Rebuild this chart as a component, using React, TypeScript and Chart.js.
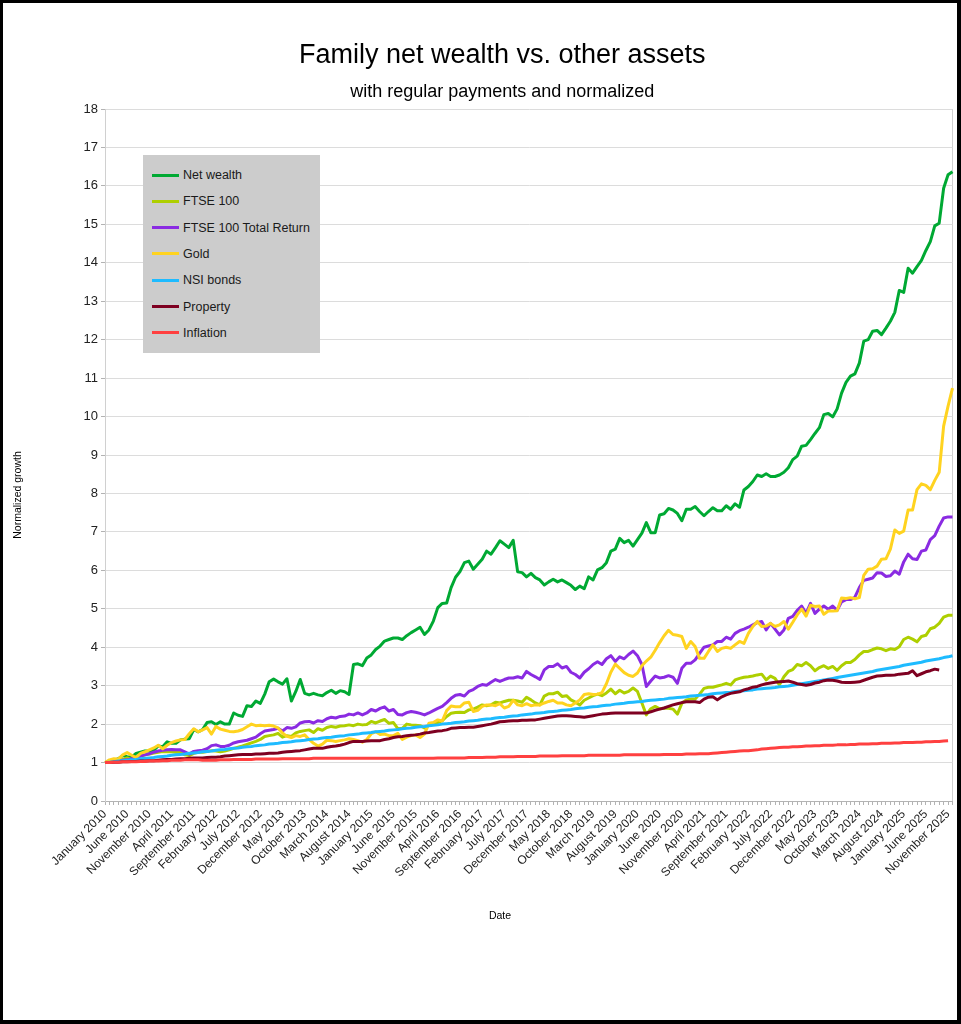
import React, { useEffect, useRef } from "react";
import { Chart, registerables } from "chart.js";

Chart.register(...registerables);

const FONT = "'Liberation Sans', Arial, sans-serif";

const MONTH_NAMES = [
  "January", "February", "March", "April", "May", "June",
  "July", "August", "September", "October", "November", "December",
];
const START_YEAR = 2010;
const MONTH_COUNT = 192;
const LABEL_EVERY = 5;
const CATEGORIES: string[] = [];
for (let i = 0; i < MONTH_COUNT; i++) {
  CATEGORIES.push(`${MONTH_NAMES[i % 12]} ${START_YEAR + Math.floor(i / 12)}`);
}

const Y_MIN = 0;
const Y_MAX = 18;
const Y_STEP = 1;

const SERIES_NAMES = [
  "Net wealth",
  "FTSE 100",
  "FTSE 100 Total Return",
  "Gold",
  "NSI bonds",
  "Property",
  "Inflation",
];

const NET_WEALTH = [
  1.00, 1.00, 1.05, 1.10, 1.18, 1.15, 1.14, 1.24, 1.27, 1.30,
  1.30, 1.32, 1.43, 1.41, 1.54, 1.50, 1.50, 1.59, 1.61, 1.62,
  1.86, 1.80, 1.86, 2.04, 2.06, 1.99, 2.06, 2.00, 2.00, 2.29,
  2.23, 2.20, 2.48, 2.46, 2.60, 2.54, 2.78, 3.10, 3.17, 3.10,
  3.04, 3.18, 2.60, 2.85, 3.16, 2.80, 2.76, 2.80, 2.76, 2.74,
  2.82, 2.88, 2.80, 2.87, 2.84, 2.77, 3.55, 3.57, 3.52, 3.72,
  3.80, 3.94, 4.03, 4.16, 4.20, 4.24, 4.24, 4.20, 4.30, 4.38,
  4.45, 4.52, 4.33, 4.45, 4.68, 5.03, 5.14, 5.15, 5.55, 5.82,
  5.97, 6.20, 6.24, 6.03, 6.16, 6.29, 6.50, 6.42, 6.59, 6.77,
  6.68, 6.59, 6.78, 5.96, 5.94, 5.83, 5.92, 5.81, 5.75, 5.62,
  5.70, 5.77, 5.70, 5.75, 5.68, 5.61, 5.50, 5.59, 5.52, 5.83,
  5.75, 6.01, 6.07, 6.20, 6.50, 6.55, 6.83, 6.72, 6.78, 6.63,
  6.80, 6.97, 7.24, 6.98, 6.98, 7.44, 7.47, 7.61, 7.57, 7.48,
  7.29, 7.59, 7.59, 7.66, 7.53, 7.42, 7.53, 7.63, 7.55, 7.55,
  7.68, 7.59, 7.73, 7.64, 8.09, 8.18, 8.31, 8.48, 8.44, 8.51,
  8.44, 8.44, 8.48, 8.55, 8.67, 8.88, 8.97, 9.23, 9.25, 9.40,
  9.56, 9.71, 10.05, 10.08, 9.99, 10.20, 10.61, 10.89, 11.05, 11.11,
  11.39, 11.96, 12.00, 12.22, 12.24, 12.13, 12.30, 12.48, 12.71, 13.28,
  13.23, 13.86, 13.73, 13.90, 14.06, 14.32, 14.55, 14.96, 15.03, 15.94,
  16.29, 16.37,
];

const FTSE_100 = [
  1.00, 1.02, 1.05, 1.04, 1.08, 1.12, 1.08, 1.13, 1.16, 1.20,
  1.22, 1.25, 1.27, 1.29, 1.28, 1.28, 1.27, 1.26, 1.20, 1.18,
  1.24, 1.27, 1.27, 1.29, 1.31, 1.30, 1.28, 1.30, 1.33, 1.37,
  1.40, 1.43, 1.47, 1.51, 1.55, 1.60, 1.68, 1.70, 1.72, 1.76,
  1.66, 1.70, 1.68, 1.77, 1.81, 1.83, 1.85, 1.78, 1.88, 1.84,
  1.91, 1.94, 1.92, 1.95, 1.96, 1.98, 1.96, 2.00, 1.98, 1.99,
  2.07, 2.03, 2.08, 2.12, 2.02, 2.04, 1.88, 1.89, 2.00, 1.98,
  1.97, 1.96, 1.90, 1.97, 2.01, 2.04, 2.09, 2.20, 2.28, 2.30,
  2.31, 2.30, 2.37, 2.39, 2.44, 2.50, 2.48, 2.50, 2.57, 2.55,
  2.59, 2.62, 2.62, 2.60, 2.57, 2.70, 2.63, 2.55, 2.50, 2.73,
  2.79, 2.79, 2.83, 2.72, 2.74, 2.63, 2.57, 2.50, 2.62, 2.68,
  2.74, 2.78, 2.74, 2.81, 2.91, 2.79, 2.88, 2.81, 2.85, 2.94,
  2.85, 2.55, 2.24, 2.40, 2.46, 2.40, 2.41, 2.41, 2.39, 2.26,
  2.54, 2.63, 2.65, 2.65, 2.78, 2.93, 2.96, 2.96, 2.99, 3.02,
  3.06, 3.02, 3.15, 3.19, 3.22, 3.23, 3.25, 3.28, 3.30, 3.15,
  3.25, 3.19, 3.02, 3.23, 3.37, 3.42, 3.55, 3.52, 3.60, 3.52,
  3.39, 3.47, 3.52, 3.45, 3.50, 3.40, 3.52, 3.60, 3.60, 3.68,
  3.80, 3.89, 3.89, 3.94, 3.98, 3.96, 3.91, 3.96, 3.94, 4.01,
  4.20, 4.26, 4.21, 4.14, 4.28, 4.31, 4.48, 4.52, 4.62, 4.78,
  4.83, 4.83,
];

const FTSE_100_TR = [
  1.00, 1.00, 1.02, 1.05, 1.06, 1.07, 1.10, 1.14, 1.17, 1.20,
  1.23, 1.27, 1.30, 1.32, 1.33, 1.34, 1.33, 1.33, 1.28, 1.22,
  1.29, 1.31, 1.32, 1.36, 1.44, 1.46, 1.42, 1.42, 1.45, 1.51,
  1.54, 1.56, 1.58, 1.62, 1.66, 1.75, 1.82, 1.84, 1.86, 1.89,
  1.82, 1.91, 1.89, 1.93, 2.03, 2.06, 2.07, 2.03, 2.09, 2.07,
  2.14, 2.18, 2.16, 2.20, 2.21, 2.26, 2.24, 2.29, 2.24, 2.29,
  2.38, 2.34, 2.41, 2.45, 2.34, 2.38, 2.25, 2.24, 2.30, 2.33,
  2.31, 2.28, 2.24, 2.29, 2.35, 2.41, 2.46, 2.56, 2.67, 2.75,
  2.77, 2.73, 2.85, 2.90, 2.98, 3.03, 3.01, 3.09, 3.16, 3.11,
  3.16, 3.20, 3.20, 3.23, 3.20, 3.37, 3.29, 3.23, 3.16, 3.41,
  3.50, 3.50, 3.57, 3.46, 3.50, 3.35, 3.29, 3.20, 3.35, 3.44,
  3.55, 3.62, 3.55, 3.70, 3.78, 3.63, 3.75, 3.70, 3.81, 3.90,
  3.78, 3.55, 2.98, 3.12, 3.25, 3.20, 3.22, 3.26, 3.22, 3.06,
  3.45, 3.58, 3.58, 3.67, 3.84, 4.00, 4.03, 4.06, 4.15, 4.15,
  4.26, 4.21, 4.36, 4.43, 4.47, 4.52, 4.58, 4.64, 4.67, 4.45,
  4.62, 4.47, 4.32, 4.45, 4.75, 4.80, 4.96, 5.07, 4.88, 5.14,
  4.88, 4.99, 5.07, 4.99, 5.07, 4.96, 5.18, 5.24, 5.24, 5.30,
  5.55, 5.74, 5.77, 5.80, 5.94, 5.93, 5.84, 5.86, 5.98, 5.90,
  6.22, 6.42, 6.30, 6.28, 6.50, 6.53, 6.80, 6.90, 7.15, 7.36,
  7.39, 7.39,
];

const GOLD = [
  1.00, 1.07, 1.10, 1.09, 1.20, 1.26, 1.19, 1.13, 1.24, 1.28,
  1.33, 1.38, 1.45, 1.36, 1.45, 1.52, 1.56, 1.59, 1.60, 1.75,
  1.88, 1.80, 1.85, 1.91, 1.74, 1.94, 1.87, 1.84, 1.81, 1.80,
  1.82, 1.86, 1.93, 2.00, 1.96, 1.97, 1.96, 1.97, 1.95, 1.90,
  1.77, 1.68, 1.65, 1.70, 1.68, 1.72, 1.60, 1.50, 1.43, 1.48,
  1.58, 1.57, 1.55, 1.57, 1.59, 1.62, 1.60, 1.57, 1.53, 1.60,
  1.75, 1.80, 1.73, 1.74, 1.70, 1.70, 1.76, 1.60, 1.66, 1.70,
  1.72, 1.65, 1.74, 2.02, 2.04, 2.11, 2.08, 2.35, 2.47, 2.45,
  2.45, 2.55, 2.57, 2.33, 2.36, 2.46, 2.50, 2.50, 2.48, 2.53,
  2.42, 2.46, 2.62, 2.50, 2.48, 2.53, 2.48, 2.50, 2.50, 2.55,
  2.59, 2.62, 2.55, 2.55, 2.50, 2.48, 2.55, 2.63, 2.77, 2.79,
  2.77, 2.78, 2.82, 3.05, 3.35, 3.56, 3.45, 3.34, 3.27, 3.24,
  3.33, 3.52, 3.64, 3.74, 3.92, 4.12, 4.30, 4.44, 4.33, 4.31,
  4.28, 3.97, 4.15, 4.02, 3.71, 3.71, 3.89, 4.06, 3.89, 3.97,
  4.00, 3.97, 4.06, 4.15, 4.10, 4.36, 4.54, 4.67, 4.54, 4.55,
  4.62, 4.54, 4.58, 4.67, 4.47, 4.65, 4.84, 4.99, 4.81, 5.09,
  5.06, 5.07, 4.86, 4.94, 4.94, 4.95, 5.28, 5.27, 5.29, 5.26,
  5.29, 5.87, 6.03, 6.04, 6.11, 6.29, 6.30, 6.55, 7.05, 6.96,
  7.02, 7.57, 7.57, 8.10, 8.25, 8.21, 8.10, 8.34, 8.55, 9.75,
  10.27, 10.74,
];

const NSI_BONDS = [
  1.00, 1.01, 1.02, 1.04, 1.05, 1.06, 1.07, 1.08, 1.10, 1.11,
  1.12, 1.13, 1.15, 1.16, 1.17, 1.19, 1.20, 1.21, 1.22, 1.24,
  1.25, 1.26, 1.28, 1.29, 1.30, 1.32, 1.33, 1.34, 1.36, 1.37,
  1.38, 1.40, 1.41, 1.42, 1.44, 1.45, 1.46, 1.48, 1.49, 1.50,
  1.52, 1.53, 1.54, 1.56, 1.57, 1.58, 1.60, 1.61, 1.62, 1.64,
  1.65, 1.66, 1.68, 1.69, 1.70, 1.72, 1.73, 1.74, 1.76, 1.77,
  1.78, 1.80, 1.81, 1.82, 1.84, 1.85, 1.86, 1.88, 1.89, 1.90,
  1.92, 1.93, 1.94, 1.96, 1.97, 1.98, 2.00, 2.01, 2.02, 2.04,
  2.05, 2.06, 2.08, 2.09, 2.10, 2.12, 2.13, 2.14, 2.16, 2.17,
  2.18, 2.20, 2.21, 2.22, 2.24, 2.25, 2.26, 2.28, 2.29, 2.30,
  2.32, 2.33, 2.34, 2.36, 2.37, 2.38, 2.40, 2.41, 2.42, 2.44,
  2.45, 2.46, 2.48, 2.49, 2.50, 2.52, 2.53, 2.54, 2.56, 2.57,
  2.58, 2.59, 2.61, 2.62, 2.63, 2.64, 2.65, 2.67, 2.68, 2.69,
  2.70, 2.71, 2.73, 2.74, 2.75, 2.76, 2.77, 2.79, 2.80, 2.81,
  2.82, 2.83, 2.85, 2.86, 2.87, 2.88, 2.89, 2.91, 2.92, 2.93,
  2.94, 2.95, 2.97, 2.98, 2.99, 3.01, 3.03, 3.05, 3.07, 3.09,
  3.11, 3.13, 3.15, 3.17, 3.19, 3.21, 3.23, 3.25, 3.27, 3.29,
  3.31, 3.33, 3.35, 3.37, 3.40, 3.42, 3.44, 3.46, 3.48, 3.50,
  3.53, 3.55, 3.57, 3.59, 3.61, 3.64, 3.66, 3.68, 3.70, 3.73,
  3.75, 3.78,
];

const PROPERTY = [
  1.00, 1.00, 1.01, 1.01, 1.02, 1.02, 1.03, 1.03, 1.04, 1.04,
  1.05, 1.05, 1.06, 1.07, 1.08, 1.08, 1.09, 1.10, 1.10, 1.11,
  1.12, 1.12, 1.12, 1.13, 1.14, 1.14, 1.15, 1.17, 1.18, 1.19,
  1.20, 1.21, 1.21, 1.21, 1.22, 1.22, 1.23, 1.24, 1.24, 1.25,
  1.27, 1.28, 1.29, 1.30, 1.31, 1.33, 1.35, 1.37, 1.37, 1.37,
  1.40, 1.42, 1.43, 1.45, 1.48, 1.52, 1.55, 1.55, 1.55, 1.56,
  1.57, 1.57, 1.57, 1.60, 1.62, 1.65, 1.67, 1.68, 1.70, 1.71,
  1.72, 1.74, 1.77, 1.78, 1.80, 1.82, 1.83, 1.85, 1.89, 1.90,
  1.91, 1.91, 1.92, 1.92, 1.94, 1.96, 1.98, 2.00, 2.03, 2.06,
  2.07, 2.08, 2.09, 2.09, 2.10, 2.10, 2.11, 2.11, 2.13, 2.15,
  2.17, 2.19, 2.21, 2.22, 2.22, 2.21, 2.20, 2.19, 2.18, 2.20,
  2.22, 2.24, 2.26, 2.27, 2.28, 2.29, 2.29, 2.29, 2.29, 2.29,
  2.29, 2.29, 2.29, 2.32, 2.36, 2.39, 2.42, 2.46, 2.50, 2.53,
  2.56, 2.58, 2.58, 2.58, 2.56, 2.65, 2.70, 2.71, 2.63, 2.71,
  2.76, 2.80, 2.82, 2.84, 2.89, 2.92, 2.96, 2.98, 3.02, 3.05,
  3.07, 3.09, 3.10, 3.11, 3.12, 3.09, 3.05, 3.03, 3.01, 3.03,
  3.07, 3.09, 3.13, 3.15, 3.14, 3.12, 3.09, 3.08, 3.08, 3.09,
  3.10, 3.14, 3.18, 3.22, 3.25, 3.26, 3.27, 3.27, 3.28, 3.30,
  3.31, 3.32, 3.39, 3.26, 3.31, 3.36, 3.39, 3.43, 3.41, null,
  null, null,
];

const INFLATION = [
  1.00, 1.00, 1.01, 1.01, 1.02, 1.02, 1.02, 1.02, 1.03, 1.03,
  1.04, 1.04, 1.04, 1.05, 1.05, 1.06, 1.06, 1.06, 1.07, 1.07,
  1.07, 1.07, 1.06, 1.06, 1.06, 1.06, 1.07, 1.07, 1.07, 1.08,
  1.08, 1.08, 1.08, 1.08, 1.09, 1.09, 1.09, 1.09, 1.09, 1.09,
  1.10, 1.10, 1.10, 1.10, 1.10, 1.10, 1.10, 1.11, 1.11, 1.11,
  1.11, 1.11, 1.11, 1.11, 1.11, 1.11, 1.11, 1.11, 1.11, 1.11,
  1.11, 1.11, 1.11, 1.11, 1.11, 1.11, 1.11, 1.11, 1.11, 1.11,
  1.11, 1.11, 1.11, 1.11, 1.11, 1.12, 1.12, 1.12, 1.12, 1.12,
  1.12, 1.12, 1.13, 1.13, 1.13, 1.13, 1.14, 1.14, 1.14, 1.15,
  1.15, 1.15, 1.15, 1.16, 1.16, 1.16, 1.16, 1.16, 1.17, 1.17,
  1.17, 1.17, 1.17, 1.18, 1.18, 1.18, 1.18, 1.18, 1.18, 1.19,
  1.19, 1.19, 1.19, 1.19, 1.19, 1.19, 1.19, 1.20, 1.20, 1.20,
  1.20, 1.20, 1.20, 1.20, 1.20, 1.20, 1.21, 1.21, 1.21, 1.21,
  1.21, 1.22, 1.22, 1.22, 1.23, 1.23, 1.23, 1.24, 1.25, 1.26,
  1.27, 1.28, 1.29, 1.30, 1.31, 1.31, 1.32, 1.33, 1.35, 1.36,
  1.37, 1.38, 1.39, 1.40, 1.40, 1.41, 1.41, 1.42, 1.43, 1.43,
  1.44, 1.44, 1.45, 1.45, 1.45, 1.46, 1.46, 1.46, 1.47, 1.47,
  1.48, 1.48, 1.48, 1.49, 1.49, 1.50, 1.50, 1.50, 1.51, 1.51,
  1.52, 1.52, 1.52, 1.53, 1.53, 1.54, 1.54, 1.55, 1.55, 1.56,
  1.57, null,
];

const SERIES_VALUES = [NET_WEALTH, FTSE_100, FTSE_100_TR, GOLD, NSI_BONDS, PROPERTY, INFLATION];

const SERIES_COLORS = ["#00a933", "#aecf00", "#8a2be2", "#ffd320", "#1ebbff", "#7e0021", "#ff4040"];

const TITLE = "Family net wealth vs. other assets";
const SUBTITLE = "with regular payments and normalized";
const X_TITLE = "Date";
const Y_TITLE = "Normalized growth";

const PAD_LEFT = 52;
const PAD_RIGHT = 8.5;
const PLOT_LEFT = 105;
const PLOT_BOTTOM = 801;
const CANVAS_W = 961;
const CANVAS_H = 1024;

const axisTitlesPlugin = {
  id: "axisTitlesFixed",
  afterDraw(chart: any) {
    const ctx = chart.ctx;
    ctx.save();
    ctx.fillStyle = "#000";
    ctx.font = `10.5px ${FONT}`;
    ctx.textAlign = "center";
    ctx.textBaseline = "middle";
    ctx.fillText(X_TITLE, 500, 916);
    ctx.translate(18, 495);
    ctx.rotate(-Math.PI / 2);
    ctx.fillText(Y_TITLE, 0, 0);
    ctx.restore();
  },
};

export default function App() {
  const canvasRef = useRef<HTMLCanvasElement | null>(null);

  useEffect(() => {
    const canvas = canvasRef.current;
    if (!canvas) return;
    const lastIndex = CATEGORIES.length - 1;
    const chart = new Chart(canvas, {
      type: "line",
      data: {
        labels: CATEGORIES,
        datasets: SERIES_NAMES.map((name, k) => ({
          label: name,
          data: SERIES_VALUES[k],
          borderColor: SERIES_COLORS[k],
          backgroundColor: SERIES_COLORS[k],
          borderWidth: 3,
          pointRadius: 0,
          pointHoverRadius: 0,
          tension: 0,
          fill: false,
          order: SERIES_NAMES.length - k,
          borderJoinStyle: "round" as const,
        })),
      },
      options: {
        animation: false,
        responsive: false,
        maintainAspectRatio: false,
        events: [],
        layout: { padding: { left: PAD_LEFT, right: PAD_RIGHT, top: 0, bottom: 0 } },
        plugins: {
          legend: { display: false },
          tooltip: { enabled: false },
          title: {
            display: true,
            text: TITLE,
            color: "#000",
            font: { family: FONT, size: 27, weight: "normal" as any, lineHeight: 1.2 },
            padding: { top: 39, bottom: 0 },
          },
          subtitle: {
            display: true,
            text: SUBTITLE,
            color: "#000",
            font: { family: FONT, size: 18, weight: "normal" as any, lineHeight: 1.2 },
            padding: { top: 10.2, bottom: 5.8 },
          },
        },
        scales: {
          x: {
            type: "category",
            offset: false,
            afterFit: (scale: any) => {
              scale.height = CANVAS_H - PLOT_BOTTOM;
              scale.paddingRight = 0;
            },
            grid: {
              display: true,
              drawOnChartArea: true,
              drawTicks: true,
              tickLength: 4,
              tickColor: "#b3b3b3",
              color: (c: any) =>
                c.index === 0 || c.index === lastIndex ? "#d0d0d0" : "rgba(0,0,0,0)",
              lineWidth: 1,
            },
            border: { display: true, color: "#b3b3b3" },
            ticks: {
              autoSkip: false,
              maxRotation: 45,
              minRotation: 45,
              padding: 2,
              color: "#222",
              font: { family: FONT, size: 12 },
              callback: function (this: any, value: any, index: number) {
                return index % LABEL_EVERY === 0 ? CATEGORIES[index] : "";
              },
            },
          },
          y: {
            min: Y_MIN,
            max: Y_MAX,
            afterFit: (scale: any) => {
              scale.width = PLOT_LEFT - PAD_LEFT;
            },
            grid: {
              color: "#dcdcdc",
              tickColor: "#b3b3b3",
              tickLength: 4,
              lineWidth: 1,
            },
            border: { display: true, color: "#d0d0d0" },
            ticks: {
              stepSize: Y_STEP,
              padding: 3,
              color: "#222",
              font: { family: FONT, size: 13 },
            },
          },
        },
      },
      plugins: [axisTitlesPlugin],
    });
    return () => chart.destroy();
  }, []);

  return (
    <div
      style={{
        position: "fixed",
        left: 0,
        top: 0,
        width: CANVAS_W,
        height: CANVAS_H,
        background: "#fff",
        overflow: "hidden",
      }}
    >
      <canvas
        ref={canvasRef}
        width={CANVAS_W}
        height={CANVAS_H}
        style={{ position: "absolute", left: 0, top: 0, width: CANVAS_W, height: CANVAS_H }}
      />
      <div
        style={{
          position: "absolute",
          left: 143,
          top: 155,
          width: 177,
          height: 198,
          background: "#cccccc",
        }}
      >
        {SERIES_NAMES.map((name, k) => (
          <div
            key={name}
            style={{
              position: "absolute",
              left: 9,
              top: 20 + k * 26.3 - 9,
              height: 18,
              display: "flex",
              alignItems: "center",
              whiteSpace: "nowrap",
            }}
          >
            <span
              style={{
                display: "inline-block",
                width: 27,
                height: 3,
                background: SERIES_COLORS[k],
              }}
            />
            <span
              style={{
                marginLeft: 4,
                fontFamily: FONT,
                fontSize: 12.5,
                color: "#1a1a1a",
                lineHeight: "18px",
              }}
            >
              {name}
            </span>
          </div>
        ))}
      </div>
      <div
        style={{
          position: "absolute",
          left: 0,
          top: 0,
          width: CANVAS_W,
          height: CANVAS_H,
          boxSizing: "border-box",
          borderLeft: "3px solid #000",
          borderTop: "3px solid #000",
          borderRight: "4px solid #000",
          borderBottom: "4px solid #000",
          pointerEvents: "none",
        }}
      />
    </div>
  );
}
